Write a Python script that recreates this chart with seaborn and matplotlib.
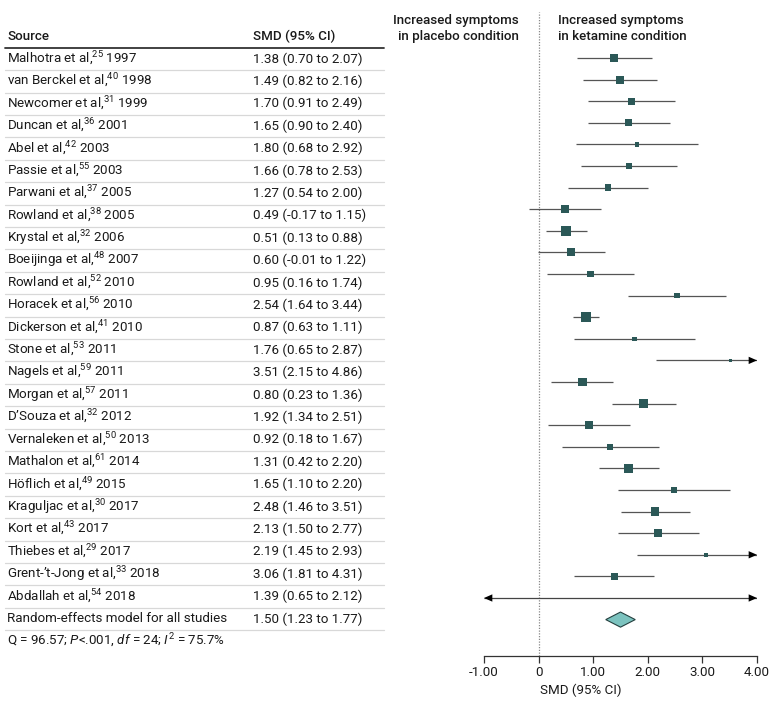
import numpy as np
import pandas as pd
import matplotlib.pyplot as plt
import seaborn as sns

sns.set_theme(style='white')
plt.rcParams['font.family'] = ['Roboto', 'DejaVu Sans']
plt.rcParams['mathtext.fontset'] = 'custom'
plt.rcParams['mathtext.rm'] = 'Roboto'
plt.rcParams['mathtext.it'] = 'Roboto:italic'

# ---- data ----
authors = ['Malhotra et al,', 'van Berckel et al,', 'Newcomer et al,', 'Duncan et al,',
           'Abel et al,', 'Passie et al,', 'Parwani et al,', 'Rowland et al,',
           'Krystal et al,', 'Boeijinga et al,', 'Rowland et al,', 'Horacek et al,',
           'Dickerson et al,', 'Stone et al,', 'Nagels et al,', 'Morgan et al,',
           'D\u2019Souza et al,', 'Vernaleken et al,', 'Mathalon et al,', 'H\u00f6flich et al,',
           'Kraguljac et al,', 'Kort et al,', 'Thiebes et al,', 'Grent-\u2019t-Jong et al,',
           'Abdallah et al,']
refs = [25, 40, 31, 36, 42, 55, 37, 38, 32, 48, 52, 56, 41, 53, 59, 57, 32, 50, 61, 49,
        30, 43, 29, 33, 54]
years = [1997, 1998, 1999, 2001, 2003, 2003, 2005, 2005, 2006, 2007, 2010, 2010, 2010,
         2011, 2011, 2011, 2012, 2013, 2014, 2015, 2017, 2017, 2017, 2018, 2018]
smd = [1.38, 1.49, 1.70, 1.65, 1.80, 1.66, 1.27, 0.49, 0.51, 0.60, 0.95, 2.54, 0.87,
       1.76, 3.51, 0.80, 1.92, 0.92, 1.31, 1.65, 2.48, 2.13, 2.19, 3.06, 1.39]
ci_lo = [0.70, 0.82, 0.91, 0.90, 0.68, 0.78, 0.54, -0.17, 0.13, -0.01, 0.16, 1.64, 0.63,
         0.65, 2.15, 0.23, 1.34, 0.18, 0.42, 1.10, 1.46, 1.50, 1.45, 1.81, 0.65]
ci_hi = [2.07, 2.16, 2.49, 2.40, 2.92, 2.53, 2.00, 1.15, 0.88, 1.22, 1.74, 3.44, 1.11,
         2.87, 4.86, 1.36, 2.51, 1.67, 2.20, 2.20, 3.51, 2.77, 2.93, 4.31, 2.12]
# study weights (%), estimated from the square sizes
weights = [4.7, 4.7, 3.4, 3.4, 1.5, 2.4, 3.4, 4.7, 7.7, 4.7, 3.4, 2.4, 7.7, 1.5, 0.9,
           6.1, 6.1, 4.7, 2.4, 6.1, 2.4, 5.3, 5.3, 1.1, 4.0]
pooled = (1.50, 1.23, 1.77)
pred_interval = (-1.00, 4.00)
stats_text = 'Q = 96.57; $\\mathit{P}$<.001, $\\mathit{df}$ = 24; $\\mathit{I}^2$ = 75.7%'
xticks = [-1, 0, 1, 2, 3, 4]
xticklabels = ['-1.00', '0', '1.00', '2.00', '3.00', '4.00']

df = pd.DataFrame({'smd': smd, 'lo': ci_lo, 'hi': ci_hi, 'weight': weights})
df['row'] = np.arange(len(df))
n = len(df)

W, H = 780, 708
fig = plt.figure(figsize=(W / 100, H / 100), dpi=100)
FS = 9.6
txt_col = '#1a1a1a'

# ---- table on the left ----
tab = fig.add_axes([0, 0, 390 / W, 1])
tab.set_xlim(0, 390)
tab.set_ylim((H - 59) / 22.4, -59 / 22.4)
tab.axis('off')

tab.text(7, -1, 'Source', fontsize=FS, fontweight='medium', va='center', color=txt_col)
tab.text(253, -1, 'SMD (95% CI)', fontsize=FS, fontweight='medium', va='center', color=txt_col)
tab.plot([5, 384], [-0.5, -0.5], color='#333333', lw=1.3)

def fmt(v):
    return '{:.2f}'.format(v)

for i in range(n):
    tab.text(7, i, '{}$^{{{}}}$ {}'.format(authors[i], refs[i], years[i]),
             fontsize=FS, va='center', color=txt_col)
    tab.text(253, i, '{} ({} to {})'.format(fmt(smd[i]), fmt(ci_lo[i]), fmt(ci_hi[i])),
             fontsize=FS, va='center', color=txt_col)
    tab.plot([5, 384], [i + 0.5, i + 0.5], color='#d8d8d8', lw=0.9)
tab.text(7, n, 'Random-effects model for all studies', fontsize=FS, va='center', color=txt_col)
tab.text(253, n, '{} ({} to {})'.format(fmt(pooled[0]), fmt(pooled[1]), fmt(pooled[2])),
         fontsize=FS, va='center', color=txt_col)
tab.plot([5, 384], [n + 0.5, n + 0.5], color='#d8d8d8', lw=0.9)
tab.text(7, n + 1, stats_text, fontsize=FS, va='center', color=txt_col)

# ---- forest plot on the right ----
x0, x1 = 484, 757
ytop, ybot = 12, 656
ax = fig.add_axes([x0 / W, 1 - ybot / H, (x1 - x0) / W, (ybot - ytop) / H])
ax.set_xlim(-1, 4)
ax.set_ylim((ybot - 58) / 21.6, (ytop - 58) / 21.6)

ax.axvline(0, color='#888888', lw=0.9, ls=(0, (1, 1.2)), zorder=1)

xmax = ax.get_xlim()[1]
hi_clip = df['hi'].clip(upper=xmax)
ax.hlines(df['row'], df['lo'], hi_clip, color='#555555', lw=0.9, zorder=2)
head = '-|>,head_length=0.5,head_width=0.22'
for _, r in df[df['hi'] > xmax].iterrows():
    ax.annotate('', xy=(xmax, r['row']), xytext=(xmax - 0.2, r['row']),
                arrowprops=dict(arrowstyle=head, color='black', lw=0, shrinkA=0, shrinkB=0),
                annotation_clip=False, zorder=3)

smax = (10 * 0.72) ** 2
sns.scatterplot(data=df, x='smd', y='row', size='weight', sizes=(0, smax),
                size_norm=(0, max(weights)), marker='s', color='#2b5857',
                linewidth=0, legend=False, ax=ax, zorder=4)

# prediction interval row
ax.hlines(n, pred_interval[0], pred_interval[1], color='#444444', lw=0.9, zorder=2)
for xe, xs in [(pred_interval[1], pred_interval[1] - 0.2), (pred_interval[0], pred_interval[0] + 0.2)]:
    ax.annotate('', xy=(xe, n), xytext=(xs, n),
                arrowprops=dict(arrowstyle=head, color='black', lw=0, shrinkA=0, shrinkB=0),
                annotation_clip=False, zorder=3)

# pooled diamond
yd = n + 1
hd = 0.35
ax.fill([pooled[1], pooled[0], pooled[2], pooled[0]], [yd, yd - hd, yd, yd + hd],
        facecolor='#7cc3bf', edgecolor='#24403f', lw=0.8, zorder=4)

sns.despine(ax=ax, left=True, top=True, right=True)
ax.spines['bottom'].set_color('#333333')
ax.spines['bottom'].set_linewidth(0.9)
ax.set_yticks([])
ax.set_ylabel('')
ax.set_xticks(xticks)
ax.set_xticklabels(xticklabels, fontsize=FS, color=txt_col)
ax.tick_params(axis='x', direction='out', length=5, width=0.9, color='#333333',
               bottom=True, pad=2)
ax.set_xlabel('SMD (95% CI)', fontsize=FS, color=txt_col)
ax.xaxis.set_label_coords((581 - x0) / (x1 - x0), -(690 - ybot) / (ybot - ytop),
                          transform=ax.transAxes)
ax.xaxis.label.set_va('center')
ax.grid(False)

ax.text(-0.37, -2.05, 'Increased symptoms\nin placebo condition', fontsize=FS,
        fontweight='medium', ha='right', va='top', color=txt_col, linespacing=1.3)
ax.text(0.35, -2.05, 'Increased symptoms\nin ketamine condition', fontsize=FS,
        fontweight='medium', ha='left', va='top', color=txt_col, linespacing=1.3)

fig.savefig('out.png', dpi=100)
